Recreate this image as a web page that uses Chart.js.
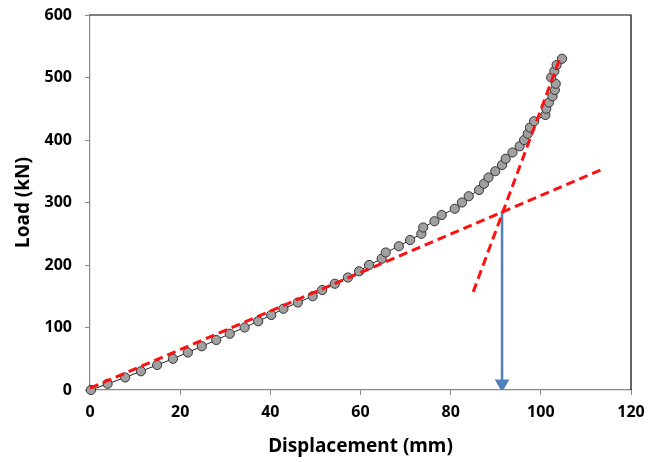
<!DOCTYPE html>
<html>
<head>
<meta charset="utf-8">
<script src="https://cdn.jsdelivr.net/npm/chart.js@4"></script>
<style>
  html, body { margin: 0; padding: 0; background: #fff; }
  #wrap { width: 649px; height: 462px; }
</style>
</head>
<body>
<div id="wrap"><canvas id="chartCarga"></canvas></div>
<script>
// Datos
const desplazamiento = [0.2, 3.9, 7.8, 11.3, 14.9, 18.4, 21.7, 24.8, 28.0, 31.0, 34.3, 37.3, 40.2, 42.9, 46.1, 49.4, 51.5, 54.3, 57.2, 59.7, 61.9, 64.7, 65.6, 68.5, 71.0, 73.5, 73.9, 76.4, 78.0, 80.9, 82.5, 84.0, 86.3, 87.4, 88.4, 89.9, 91.4, 92.2, 93.7, 95.3, 96.3, 97.1, 97.6, 98.5, 101.0, 101.2, 101.8, 102.6, 103.1, 103.3, 102.3, 103.0, 103.5, 104.7];
const carga = [0, 10, 20, 30, 40, 50, 60, 70, 80, 90, 100, 110, 120, 130, 140, 150, 160, 170, 180, 190, 200, 210, 220, 230, 240, 250, 260, 270, 280, 290, 300, 310, 320, 330, 340, 350, 360, 370, 380, 390, 400, 410, 420, 430, 440, 450, 460, 470, 480, 490, 500, 510, 520, 530];

// Rectas de ajuste (extremos)
const recta1X = [0, 113.3];
const recta1Y = [3, 352];
const recta2X = [85.0, 104.1];
const recta2Y = [157, 528];

// Flecha de fluencia
const flechaX = [91.4, 91.4];
const flechaY = [287, 10];

const ticksX = [0, 20, 40, 60, 80, 100, 120];
const ticksY = [0, 100, 200, 300, 400, 500, 600];

const puntos = (xs, ys) => xs.map((x, i) => ({ x: x, y: ys[i] }));

// Marco superior y derecho
const marco = {
  id: "marco",
  afterDraw(chart) {
    const a = chart.chartArea, c = chart.ctx;
    c.save();
    c.strokeStyle = "#000";
    c.lineWidth = 1.2;
    c.beginPath();
    c.moveTo(a.left, a.top);
    c.lineTo(a.right, a.top);
    c.lineTo(a.right, a.bottom);
    c.stroke();
    c.restore();
  }
};

const fuente = { family: "'Noto Sans', 'DejaVu Sans', sans-serif", weight: "bold" };

const ctx = document.getElementById("chartCarga").getContext("2d");
new Chart(ctx, {
  type: "scatter",
  data: {
    datasets: [{
      label: "Recta 1",
      data: puntos(recta1X, recta1Y),
      showLine: true,
      borderColor: "#ff1010",
      borderWidth: 3,
      borderDash: [9, 5],
      pointRadius: 0,
      clip: false,
      order: 0
    }, {
      label: "Recta 2",
      data: puntos(recta2X, recta2Y),
      showLine: true,
      borderColor: "#ff1010",
      borderWidth: 3,
      borderDash: [9, 5],
      pointRadius: 0,
      clip: false,
      order: 0
    }, {
      label: "Flecha",
      data: puntos(flechaX, flechaY),
      showLine: true,
      borderColor: "#4f81bd",
      borderWidth: 2.5,
      pointStyle: "triangle",
      rotation: 180,
      pointRadius: [0, 6],
      pointBackgroundColor: "#4f81bd",
      pointBorderColor: "#4f81bd",
      order: 1
    }, {
      label: "Carga",
      data: puntos(desplazamiento, carga),
      showLine: true,
      borderColor: "#222",
      borderWidth: 1,
      pointRadius: 4.6,
      pointBackgroundColor: "#a0a0a0",
      pointBorderColor: "#333",
      pointBorderWidth: 1,
      clip: false,
      order: 2
    }]
  },
  options: {
    responsive: true,
    maintainAspectRatio: false,
    animation: false,
    layout: { padding: { left: 8, right: 18, top: 15, bottom: 0 } },
    plugins: { legend: { display: false }, tooltip: { enabled: false } },
    scales: {
      x: {
        type: "linear",
        min: 0, max: 120,
        afterBuildTicks: s => { s.ticks = ticksX.map(v => ({ value: v })); },
        afterFit: s => { s.height = 72; s.paddingLeft = 0; s.paddingRight = 0; },
        grid: { drawOnChartArea: false, drawTicks: true, tickLength: 5, color: "#888" },
        border: { color: "#888", width: 1.2 },
        ticks: { color: "#000", padding: 8, font: { ...fuente, size: 16 } },
        title: { display: true, text: "Displacement (mm)", color: "#000", padding: { top: 0 }, font: { ...fuente, size: 19 } }
      },
      y: {
        min: 0, max: 600,
        afterBuildTicks: s => { s.ticks = ticksY.map(v => ({ value: v })); },
        afterFit: s => { s.width = 82; s.paddingTop = 0; s.paddingBottom = 0; },
        grid: { drawOnChartArea: false, drawTicks: true, tickLength: 5, color: "#888" },
        border: { color: "#888", width: 1.2 },
        ticks: { color: "#000", padding: 13, font: { ...fuente, size: 16 } },
        title: { display: true, text: "Load (kN)", color: "#000", padding: { bottom: 2 }, font: { ...fuente, size: 19 } }
      }
    }
  },
  plugins: [marco]
});
</script>
</body>
</html>
